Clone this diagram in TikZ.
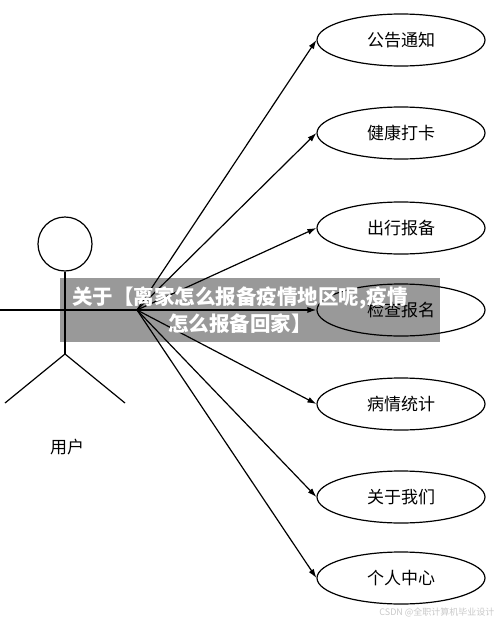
\documentclass[tikz,border=0pt]{standalone}
\usepackage{fontspec}
\setmainfont{Noto Sans CJK SC}
\usepackage{tikz}
\usetikzlibrary{arrows.meta, positioning, shapes.geometric}
\definecolor{mark}{RGB}{200,200,200}

\begin{document}
\begin{tikzpicture}[x=1pt, y=-1pt,
      usecase/.style={ellipse, draw, line width=1.2pt, minimum width=168pt, minimum height=52pt, inner sep=0pt, font=\fontsize{17}{20}\selectfont},
      actor/.style={line width=1.2pt},
      arr/.style={-{Latex[length=9pt, width=6pt]}, line width=1.2pt},
      bannertext/.style={text=white, align=center, font=\fontsize{20.5}{27}\selectfont\bfseries}]
    \useasboundingbox (0,0) rectangle (500,621);
    % actor
    \node[circle, draw, actor, minimum size=54pt, inner sep=0pt] (head) at (65,244) {};
    \coordinate (hip) at (65,354);
    \coordinate (hub) at (137,310);
    \coordinate (hand) at (0,310);
    \coordinate (lfoot) at (5,403);
    \coordinate (rfoot) at (125,403);
    \draw[actor] (head.south) -- (hip);
    \draw[actor] (hand) -- (hub);
    \draw[actor] (lfoot) -- (hip) -- (rfoot);
    \node[font=\fontsize{17}{20}\selectfont] (user) at (67,447) {用户};
    % use cases
    \node[usecase] (notice) at (401,40) {公告通知};
    \node[usecase] (health) at (401,133) {健康打卡};
    \node[usecase] (travel) at (401,228) {出行报备};
    \node[usecase] (check) at (401,310) {检查报名};
    \node[usecase] (stat) at (401,404) {病情统计};
    \node[usecase] (about) at (401,497) {关于我们};
    \node[usecase] (center) at (401,578) {个人中心};
    \draw[arr] (hub)--(notice.west); \draw[arr] (hub)--(health.west); \draw[arr] (hub)--(travel.west);
    \draw[arr] (hub)--(check.west); \draw[arr] (hub)--(stat.west); \draw[arr] (hub)--(about.west);
    \draw[arr] (hub)--(center.west);
    % overlay
    \fill[black, opacity=0.4] (60,278) rectangle (440,342);
    \node[bannertext] (title) at (240,310) {关于【离家怎么报备疫情地区呢,疫情\\怎么报备回家】};
    \node[text=mark, anchor=east, font=\fontsize{9}{11}\selectfont] (wm) at (498,612) {CSDN @全职计算机毕业设计};
  \end{tikzpicture}
\end{document}
